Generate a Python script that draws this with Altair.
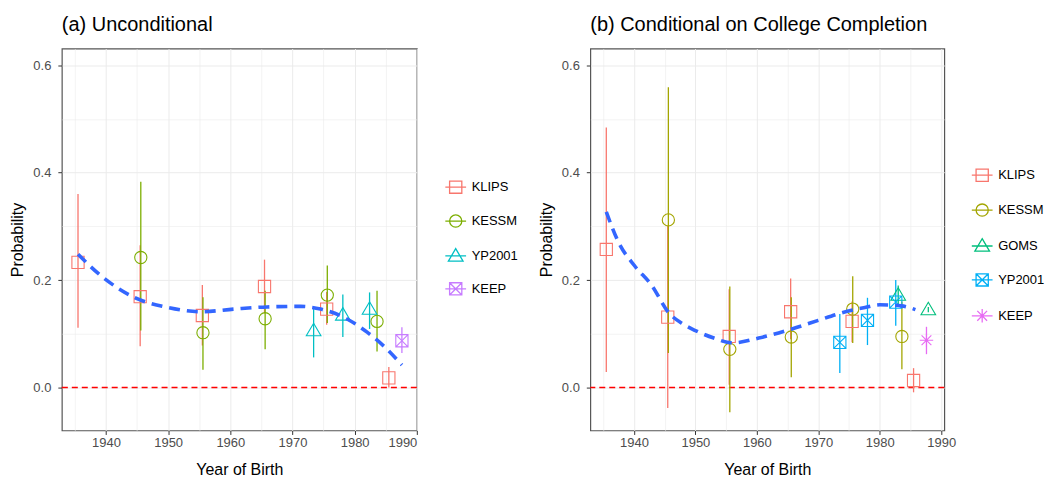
import altair as alt
import pandas as pd

FONT = "Liberation Sans, Arial, Helvetica, sans-serif"

# ---------------- Panel (a) Unconditional ----------------
A_SOURCES = ["KLIPS", "KESSM", "YP2001", "KEEP"]
A_COLORS = ["#F8766D", "#7CAE00", "#00BFC4", "#C77CFF"]
A_SRC = ["KLIPS"] * 6 + ["KESSM"] * 5 + ["YP2001"] * 3 + ["KEEP"]
A_YEAR = [1935.5, 1945.5, 1955.5, 1965.5, 1975.5, 1985.5,
          1945.6, 1955.6, 1965.6, 1975.6, 1983.6,
          1973.4, 1978.1, 1982.4,
          1987.6]
A_EST = [0.233, 0.169, 0.134, 0.188, 0.146, 0.018,
         0.242, 0.102, 0.128, 0.172, 0.123,
         0.106, 0.135, 0.146,
         0.087]
A_LO = [0.111, 0.077, 0.078, 0.138, 0.117, 0.000,
        0.106, 0.033, 0.071, 0.120, 0.067,
        0.056, 0.094, 0.109,
        0.064]
A_HI = [0.360, 0.265, 0.191, 0.238, 0.178, 0.038,
        0.383, 0.168, 0.180, 0.227, 0.180,
        0.146, 0.173, 0.177,
        0.112]
A_CURVE_YEAR = [1935.5, 1939.2, 1944.5, 1949.9, 1955.3, 1960.6, 1965.9,
                1971.3, 1974.5, 1978.2, 1982.0, 1984.6, 1987.6]
A_CURVE_P = [0.248, 0.208, 0.168, 0.149, 0.141, 0.146, 0.150,
             0.151, 0.146, 0.131, 0.103, 0.078, 0.042]

# ---------------- Panel (b) Conditional on College Completion ----------------
B_SOURCES = ["KLIPS", "KESSM", "GOMS", "YP2001", "KEEP"]
B_COLORS = ["#F8766D", "#A3A500", "#00BF7D", "#00B0F6", "#E76BF3"]
B_SRC = ["KLIPS"] * 6 + ["KESSM"] * 5 + ["GOMS"] * 2 + ["YP2001"] * 3 + ["KEEP"]
B_YEAR = [1935.5, 1945.5, 1955.5, 1965.5, 1975.5, 1985.5,
          1945.6, 1955.6, 1965.6, 1975.6, 1983.6,
          1983.0, 1987.9,
          1973.5, 1978.0, 1982.6,
          1987.6]
B_EST = [0.257, 0.131, 0.095, 0.141, 0.123, 0.013,
         0.312, 0.071, 0.094, 0.146, 0.095,
         0.172, 0.145,
         0.084, 0.125, 0.159,
         0.088]
B_LO = [0.029, -0.038, 0.005, 0.090, 0.084, -0.009,
        0.064, -0.046, 0.019, 0.083, 0.034,
        0.155, 0.140,
        0.027, 0.079, 0.115,
        0.062]
B_HI = [0.484, 0.301, 0.183, 0.203, 0.160, 0.036,
        0.559, 0.188, 0.168, 0.207, 0.160,
        0.190, 0.150,
        0.137, 0.167, 0.200,
        0.113]
B_CURVE_YEAR = [1935.5, 1937.5, 1940.0, 1942.9, 1945.6, 1948.0, 1950.0, 1953.0,
                1956.0, 1960.3, 1965.7, 1970.0, 1973.2, 1977.6, 1980.0, 1983.5, 1985.8]
B_CURVE_P = [0.327, 0.270, 0.228, 0.190, 0.140, 0.118, 0.106, 0.092,
             0.083, 0.092, 0.109, 0.125, 0.137, 0.149, 0.154, 0.152, 0.145]

# grid / tick positions
X_TICKS = [1935, 1940, 1945, 1950, 1955, 1960, 1965, 1970, 1975, 1980, 1985, 1990]
Y_TICKS = [0.0, 0.1, 0.2, 0.3, 0.4, 0.5, 0.6]
ZERO = [0.0]

# marker paths (unit square coordinates)
SQUARE = "M-1,-1H1V1H-1Z"
CIRCLE = "M1,0A1,1 0 1,1 -1,0A1,1 0 1,1 1,0Z"
TRIANGLE = "M0,-1.2L1.2,0.85L-1.2,0.85Z"
SQCROSS = "M-1,-1H1V1H-1Z M-1,-1L1,1 M1,-1L-1,1"
ASTER = "M-1.1,0H1.1 M0,-1.1V1.1 M-0.8,-0.8L0.8,0.8 M0.8,-0.8L-0.8,0.8"
KEYLINE = " M-1.7,0H1.7"

A_SHAPES = [SQUARE, CIRCLE, TRIANGLE, SQCROSS]
B_SHAPES = [SQUARE, CIRCLE, TRIANGLE, SQCROSS, ASTER]


def panel(src, year, est, lo, hi, cyear, cp, sources, colors, shapes,
          title, xmax, leg_x, leg_y, row_pad, width):
    pts = pd.DataFrame({"source": src, "year": year, "p": est, "lo": lo, "hi": hi})
    curve = pd.DataFrame({"year": cyear, "p": cp})
    zero = pd.DataFrame({"v": ZERO})

    xsc = alt.Scale(domain=[1932.9, xmax], nice=False, zero=False)
    ysc = alt.Scale(domain=[-0.08, 0.631], nice=False, zero=False)
    xaxis = alt.Axis(values=X_TICKS, format="d",
                     labelExpr="datum.value % 10 == 0 ? datum.label : ''",
                     tickOpacity={"condition": {"test": "datum.value % 10 != 0", "value": 0}, "value": 1},
                     gridWidth={"condition": {"test": "datum.value % 10 != 0", "value": 0.6}, "value": 1},
                     title="Year of Birth", titlePadding=12, labelPadding=2)
    yaxis = alt.Axis(values=Y_TICKS, format=".1f",
                     labelExpr="round(datum.value * 10) % 2 == 0 ? datum.label : ''",
                     tickOpacity={"condition": {"test": "round(datum.value * 10) % 2 != 0", "value": 0}, "value": 1},
                     gridWidth={"condition": {"test": "round(datum.value * 10) % 2 != 0", "value": 0.6}, "value": 1},
                     title="Probability", titlePadding=7, labelPadding=7)

    X = alt.X("year:Q", scale=xsc, axis=xaxis)
    Y = alt.Y("p:Q", scale=ysc, axis=yaxis)

    cscale = alt.Scale(domain=sources, range=colors)
    leg = alt.Legend(title=None, orient="none", legendX=leg_x, legendY=leg_y,
                     symbolSize=150, symbolStrokeWidth=1.3, symbolOpacity=1,
                     labelFont=FONT, labelFontSize=13, labelColor="black",
                     labelOffset=9, rowPadding=row_pad, padding=0)

    zero_rule = alt.Chart(zero).mark_rule(color="#FF0000", strokeDash=[6, 4], strokeWidth=1.6).encode(
        y=alt.Y("v:Q", scale=ysc, axis=yaxis))
    bars = alt.Chart(pts).mark_rule(strokeWidth=1.3).encode(
        x=X, y=alt.Y("lo:Q", scale=ysc, axis=yaxis), y2="hi:Q",
        color=alt.Color("source:N", scale=cscale, legend=None))
    points = alt.Chart(pts).mark_point(filled=False, size=150, strokeWidth=1.1, opacity=1).encode(
        x=X, y=Y,
        color=alt.Color("source:N", scale=cscale, legend=None),
        shape=alt.Shape("source:N", scale=alt.Scale(domain=sources, range=shapes), legend=None))
    legend_layer = alt.Chart(pts).mark_point(filled=False, size=150, opacity=0).encode(
        x=X, y=Y,
        color=alt.Color("source:N", scale=cscale, legend=leg),
        shape=alt.Shape("source:N", scale=alt.Scale(domain=sources, range=[s + KEYLINE for s in shapes]),
                        legend=leg))
    smooth = alt.Chart(curve).mark_line(color="#3366FF", strokeDash=[11, 7], strokeWidth=3.6,
                                        interpolate="monotone").encode(x=X, y=Y)

    return alt.layer(zero_rule, bars, points, legend_layer, smooth).resolve_scale(
        color="independent", shape="independent"
    ).properties(
        width=width, height=383,
        title=alt.TitleParams(title, anchor="start", frame="group", font=FONT, fontSize=20,
                              fontWeight="normal", color="black", offset=14),
    )


left = panel(A_SRC, A_YEAR, A_EST, A_LO, A_HI, A_CURVE_YEAR, A_CURVE_P,
             A_SOURCES, A_COLORS, A_SHAPES, "(a) Unconditional", 1990.0,
             388, 132, 16, 356)
right = panel(B_SRC, B_YEAR, B_EST, B_LO, B_HI, B_CURVE_YEAR, B_CURVE_P,
              B_SOURCES, B_COLORS, B_SHAPES, "(b) Conditional on College Completion", 1990.5,
              386, 120, 17, 355)

chart = alt.hconcat(left, right, spacing=18).resolve_scale(
    color="independent", shape="independent"
).properties(
    padding={"left": 1, "top": 5, "right": 0, "bottom": 0}
).configure_view(
    stroke="#555555", strokeWidth=1.2
).configure_axis(
    labelFont=FONT, labelFontSize=13, labelColor="#4D4D4D",
    titleFont=FONT, titleFontSize=16, titleFontWeight="normal", titleColor="black",
    tickColor="#333333", tickSize=4, domain=False, gridColor="#EBEBEB"
)

chart.save("out.html", embed_options={"renderer": "svg", "actions": False})
